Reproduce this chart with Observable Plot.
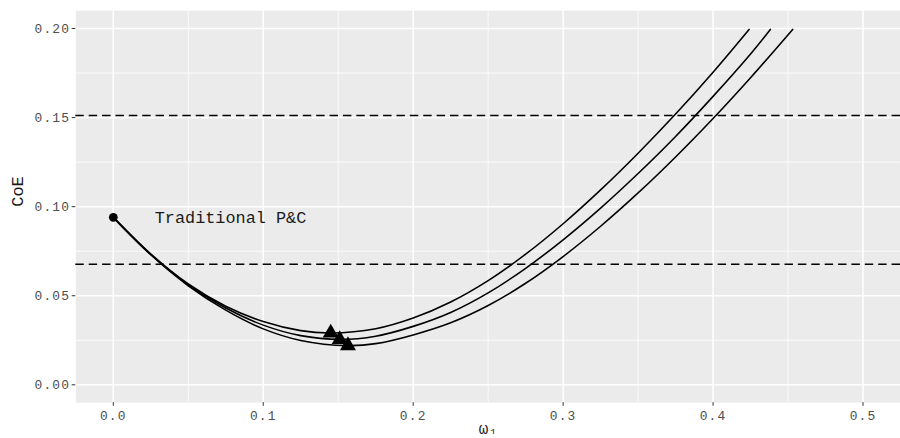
<!DOCTYPE html>
<html>
<head>
<meta charset="utf-8">
<script src="https://cdn.jsdelivr.net/npm/d3@7"></script>
<script src="https://cdn.jsdelivr.net/npm/@observablehq/plot@0.6"></script>
<style>
  html, body { margin: 0; padding: 0; background: #ffffff; overflow: hidden; }
  svg [aria-label$="tick label"] text, svg [aria-label$="tick label"] { letter-spacing: 1.2px; }
</style>
</head>
<body>
<div id="chart"></div>
<script>
// ---- data ----
const xA = [0, 0.025, 0.05, 0.075, 0.1, 0.125, 0.145, 0.175, 0.2, 0.225, 0.25, 0.275, 0.3, 0.325, 0.35, 0.375, 0.4, 0.424];
const yA = [0.094, 0.0734, 0.0566, 0.0441, 0.0355, 0.0304, 0.0291, 0.0315, 0.0375, 0.0465, 0.0585, 0.0733, 0.0904, 0.1094, 0.1300, 0.1520, 0.1755, 0.1995];
const xB = [0, 0.025, 0.05, 0.075, 0.1, 0.125, 0.151, 0.175, 0.2, 0.225, 0.25, 0.275, 0.3, 0.325, 0.35, 0.375, 0.4, 0.425, 0.4382];
const yB = [0.094, 0.0732, 0.0561, 0.0431, 0.0335, 0.0276, 0.0255, 0.0273, 0.0328, 0.0406, 0.0516, 0.0654, 0.0814, 0.0992, 0.1186, 0.1394, 0.1619, 0.1857, 0.1995];
const xC = [0, 0.025, 0.05, 0.075, 0.1, 0.125, 0.1565, 0.175, 0.2, 0.225, 0.25, 0.275, 0.3, 0.325, 0.35, 0.375, 0.4, 0.425, 0.4531];
const yC = [0.094, 0.0730, 0.0556, 0.0419, 0.0314, 0.0249, 0.0220, 0.0231, 0.0280, 0.0348, 0.0445, 0.0570, 0.0720, 0.0890, 0.1077, 0.1279, 0.1495, 0.1724, 0.1995];
const seriesNames = ["A", "B", "C"];
const minX = [0.145, 0.151, 0.1565];
const minY = [0.0291, 0.0255, 0.0220];
const startX = [0];
const startY = [0.094];
const hLines = [0.1512, 0.0677];
const annotationText = "Traditional P&C";
const annotationX = 0.0276;
const annotationY = 0.094;
const xMajor = [0, 0.1, 0.2, 0.3, 0.4, 0.5];
const xMinor = [0.05, 0.15, 0.25, 0.35, 0.45];
const yMajor = [0, 0.05, 0.10, 0.15, 0.20];
const yMinor = [0.025, 0.075, 0.125, 0.175];
const xTitle = "ω₁";
const yTitle = "CoE";

// ---- build tables ----
const curves = [];
[[xA, yA], [xB, yB], [xC, yC]].forEach(([xs, ys], i) => {
  xs.forEach((x, j) => curves.push({series: seriesNames[i], x, y: ys[j]}));
});
const mins = minX.map((x, i) => ({x, y: minY[i]}));
const start = startX.map((x, i) => ({x, y: startY[i]}));

const mono = "'Liberation Mono', 'Courier New', monospace";

const chart = Plot.plot({
  width: 908,
  height: 438,
  marginLeft: 76,
  marginRight: 0,
  marginTop: 10.3,
  marginBottom: 32.3,
  style: {fontFamily: mono, fontSize: "13px", background: "white", overflow: "visible"},
  x: {domain: [-0.025, 0.525]},
  y: {domain: [-0.01, 0.21]},
  marks: [
    Plot.frame({fill: "#ebebeb", stroke: null}),
    Plot.ruleX(xMinor, {stroke: "white", strokeWidth: 0.8}),
    Plot.ruleY(yMinor, {stroke: "white", strokeWidth: 0.8}),
    Plot.ruleX(xMajor, {stroke: "white", strokeWidth: 1.5}),
    Plot.ruleY(yMajor, {stroke: "white", strokeWidth: 1.5}),
    Plot.ruleY(hLines, {stroke: "black", strokeWidth: 1.4, strokeDasharray: "8.5,5"}),
    Plot.line(curves, {x: "x", y: "y", z: "series", curve: "catmull-rom", stroke: "black", strokeWidth: 1.6}),
    Plot.dot(start, {x: "x", y: "y", r: 4.4, fill: "black", stroke: null}),
    Plot.dot(mins, {x: "x", y: "y", symbol: d3.symbolTriangle, r: 6.0, fill: "black", stroke: null}),
    Plot.text([annotationText], {x: () => annotationX, y: () => annotationY, text: d => d, textAnchor: "start", fontSize: 17, fill: "#1a1a1a", fontFamily: mono}),
    Plot.axisX({ticks: xMajor, tickFormat: d3.format(".1f"), tickSize: 3.7, tickPadding: 5, stroke: "#333333", color: "#4d4d4d", label: null, fontSize: 13}),
    Plot.axisY({ticks: yMajor, tickFormat: d3.format(".2f"), tickSize: 3.7, tickPadding: 2, stroke: "#333333", color: "#4d4d4d", label: null, fontSize: 13}),
    Plot.text([xTitle], {frameAnchor: "bottom", dy: 32, text: d => d, fontSize: 16, fill: "#1a1a1a", fontFamily: mono}),
    Plot.text([yTitle], {frameAnchor: "left", dx: -59, rotate: -90, text: d => d, fontSize: 17, fill: "#1a1a1a", fontFamily: mono})
  ]
});
document.getElementById("chart").appendChild(chart);
</script>
</body>
</html>
